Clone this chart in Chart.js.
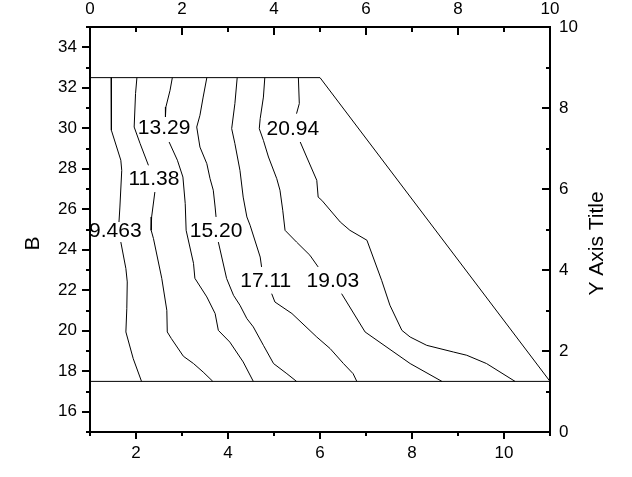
<!DOCTYPE html>
<html><head><meta charset="utf-8">
<script src="https://cdn.jsdelivr.net/npm/chart.js@4/dist/chart.umd.min.js"></script>
<style>html,body{margin:0;padding:0;background:#fff;}#wrap{width:632px;height:477px;position:relative;}</style>
</head><body><div id="wrap"><canvas id="c"></canvas></div>
<script>
const FONT = "'Liberation Sans', Arial, Helvetica, sans-serif";

// Axis tick values
const bottomTicks = [2, 4, 6, 8, 10];
const bottomMinor = [1, 3, 5, 7, 9, 11];
const leftTicks = [16, 18, 20, 22, 24, 26, 28, 30, 32, 34];
const leftMinor = [15, 17, 19, 21, 23, 25, 27, 29, 31, 33, 35];
const topTicks = [0, 2, 4, 6, 8, 10];
const topMinor = [1, 3, 5, 7, 9];
const rightTicks = [0, 2, 4, 6, 8, 10];
const rightMinor = [1, 3, 5, 7, 9];
const leftTitle = 'B';
const rightTitle = 'Y Axis Title';

// Contour levels and label anchors
const levels = ['9.463', '11.38', '13.29', '15.20', '17.11', '19.03', '20.94'];
const labelX = [1.55, 2.39, 2.61, 3.74, 4.82, 6.28, 5.41];
const labelY = [24.96, 27.53, 30.03, 24.96, 22.49, 22.49, 30.0];

// Contour line vertices (null = break for label)
const c1X = [1.46, 1.46, 1.47, 1.67, 1.69, 1.65, 1.63, 1.65, 1.67, 1.78, 1.81, 1.80, 1.78, 1.94, 2.12];
const c1Y = [32.5, 31.22, 29.90, 28.42, 27.92, 26.11, 25.37, null, 24.38, 23.07, 22.41, 21.09, 19.94, 18.62, 17.5];
const c2X = [2.02, 1.99, 1.96, 2.09, 2.27, 2.34, 2.41, 2.34, 2.33, 2.38, 2.56, 2.67, 2.68, 2.77, 3.03, 3.25, 3.46, 3.67];
const c2Y = [32.5, 31.71, 30.06, 29.24, 28.17, null, 26.85, 25.62, 24.96, 24.55, 22.59, 21.01, 19.94, 19.61, 18.74, 18.38, 17.96, 17.5];
const c3X = [2.79, 2.74, 2.65, 2.64, 2.68, 2.72, 2.90, 3.02, 3.07, 3.09, 3.25, 3.28, 3.54, 3.72, 3.79, 4.04, 4.33, 4.55];
const c3Y = [32.5, 31.87, 31.05, 30.56, null, 29.32, 28.42, 27.59, 26.28, 24.96, 23.33, 22.59, 21.67, 20.85, 20.02, 19.44, 18.46, 17.5];
const c4X = [3.54, 3.46, 3.39, 3.32, 3.39, 3.54, 3.61, 3.68, 3.72, 3.74, 3.76, 3.79, 3.97, 4.12, 4.26, 4.41, 4.55, 4.77, 4.99, 5.28, 5.49];
const c4Y = [32.5, 31.54, 30.64, 30.06, 29.07, 28.25, 27.51, 26.94, 26.11, 25.62, null, 24.38, 22.58, 21.75, 21.26, 20.60, 20.19, 19.28, 18.38, 17.88, 17.5];
const c5X = [4.20, 4.15, 4.08, 4.15, 4.26, 4.33, 4.41, 4.48, 4.70, 4.73, 4.84, 4.95, 5.02, 5.39, 5.93, 6.22, 6.51, 6.72, 6.80];
const c5Y = [32.5, 31.22, 29.98, 29.24, 27.92, 26.60, 25.62, 25.21, 23.64, 23.15, null, 21.83, 21.42, 20.85, 19.69, 19.12, 18.38, 17.88, 17.5];
const c6X = [4.80, 4.77, 4.70, 4.68, 4.77, 4.88, 5.06, 5.13, 5.19, 5.24, 5.49, 5.78, 5.96, 6.2, 6.47, 6.98, 7.96, 8.65];
const c6Y = [32.5, 31.54, 30.48, 29.98, 29.40, 28.58, 27.51, 26.94, 25.95, 24.96, 24.38, 23.73, 23.15, null, 21.83, 19.94, 18.38, 17.5];
const c7X = [5.53, 5.55, 5.49, 5.53, 5.57, 5.71, 5.93, 5.96, 6.04, 6.44, 6.65, 7.02, 7.34, 7.52, 7.78, 7.96, 8.32, 8.90, 9.19, 9.62, 10.24];
const c7Y = [32.5, 31.22, 30.72, null, 29.32, 28.58, 27.43, 26.60, 26.44, 25.37, 24.96, 24.47, 22.49, 21.26, 20.02, 19.69, 19.28, 18.95, 18.79, 18.38, 17.5];

// Region boundary
const boundaryX = [1, 6, 11];
const boundaryY = [32.5, 32.5, 17.5];
const baseX = [1, 11];
const baseY = [17.5, 17.5];

function pts(xs, ys) { return xs.map((x, i) => ({ x: x, y: ys[i] })); }
function ds(xs, ys) {
  return { data: pts(xs, ys), borderColor: '#000', borderWidth: 1, pointRadius: 0, tension: 0, spanGaps: false, fill: false, xAxisID: 'x', yAxisID: 'y' };
}
const datasets = [
  ds(boundaryX, boundaryY), ds(baseX, baseY),
  ds(c1X, c1Y), ds(c2X, c2Y), ds(c3X, c3Y), ds(c4X, c4Y), ds(c5X, c5Y), ds(c6X, c6Y), ds(c7X, c7Y)
];

const decor = {
  id: 'decor',
  afterDraw(chart) {
    const ctx = chart.ctx, a = chart.chartArea;
    const sx = chart.scales.x, sy = chart.scales.y, sx2 = chart.scales.x2, sy2 = chart.scales.y2;
    ctx.save();
    ctx.strokeStyle = '#000';
    ctx.lineWidth = 2;
    const seg = (x1, y1, x2, y2) => { ctx.beginPath(); ctx.moveTo(x1, y1); ctx.lineTo(x2, y2); ctx.stroke(); };
    const L = Math.round(a.left), R = Math.round(a.right), T = Math.round(a.top), B = Math.round(a.bottom);
    bottomTicks.forEach(v => { const p = Math.round(sx.getPixelForValue(v)); seg(p, B, p, B + 7); });
    bottomMinor.forEach(v => { const p = Math.round(sx.getPixelForValue(v)); seg(p, B, p, B + 4); });
    leftTicks.forEach(v => { const p = Math.round(sy.getPixelForValue(v)); seg(L, p, L - 8, p); });
    leftMinor.forEach(v => { const p = Math.round(sy.getPixelForValue(v)); seg(L, p, L - 4, p); });
    topTicks.forEach(v => { const p = Math.round(sx2.getPixelForValue(v)); seg(p, T, p, T + 8); });
    topMinor.forEach(v => { const p = Math.round(sx2.getPixelForValue(v)); seg(p, T, p, T + 5); });
    rightTicks.forEach(v => { const p = Math.round(sy2.getPixelForValue(v)); seg(R, p, R - 8, p); });
    rightMinor.forEach(v => { const p = Math.round(sy2.getPixelForValue(v)); seg(R, p, R - 4, p); });

    // contour labels
    ctx.fillStyle = '#000';
    ctx.font = '21px ' + FONT;
    ctx.textAlign = 'center';
    ctx.textBaseline = 'middle';
    levels.forEach((t, i) => {
      ctx.fillText(t, sx.getPixelForValue(labelX[i]), sy.getPixelForValue(labelY[i]) + 1);
    });

    // axis titles
    ctx.font = '21px ' + FONT;
    const midY = (a.top + a.bottom) / 2 + 14;
    ctx.save(); ctx.translate(33, midY); ctx.rotate(-Math.PI / 2); ctx.fillText(leftTitle, 0, 0); ctx.restore();
    ctx.save(); ctx.translate(597, midY); ctx.rotate(-Math.PI / 2); ctx.fillText(rightTitle, 0, 0); ctx.restore();
    ctx.restore();
  }
};

function axis(pos, min, max, ticks, size, pad) {
  return {
    type: 'linear', position: pos, min: min, max: max,
    grid: { display: true, drawOnChartArea: false, drawTicks: false },
    border: { display: true, color: '#000', width: 2 },
    ticks: { color: '#000', padding: pad, font: { family: FONT, size: 17 } },
    afterBuildTicks: s => { s.ticks = ticks.map(v => ({ value: v })); },
    afterFit: s => { if (pos === 'left' || pos === 'right') s.width = size; else s.height = size; }
  };
}

new Chart(document.getElementById('c'), {
  type: 'line',
  data: { datasets: datasets },
  options: {
    responsive: true, maintainAspectRatio: false, animation: false, events: [],
    layout: { padding: 0 },
    parsing: true,
    plugins: { legend: { display: false }, tooltip: { enabled: false } },
    scales: {
      x: axis('bottom', 1, 11, bottomTicks, 45, 11),
      x2: axis('top', 0, 10, topTicks, 27, 7),
      y: axis('left', 15, 35, leftTicks, 90, 13),
      y2: axis('right', 0, 10, rightTicks, 82, 9)
    }
  },
  plugins: [decor]
});
</script>
</body></html>
